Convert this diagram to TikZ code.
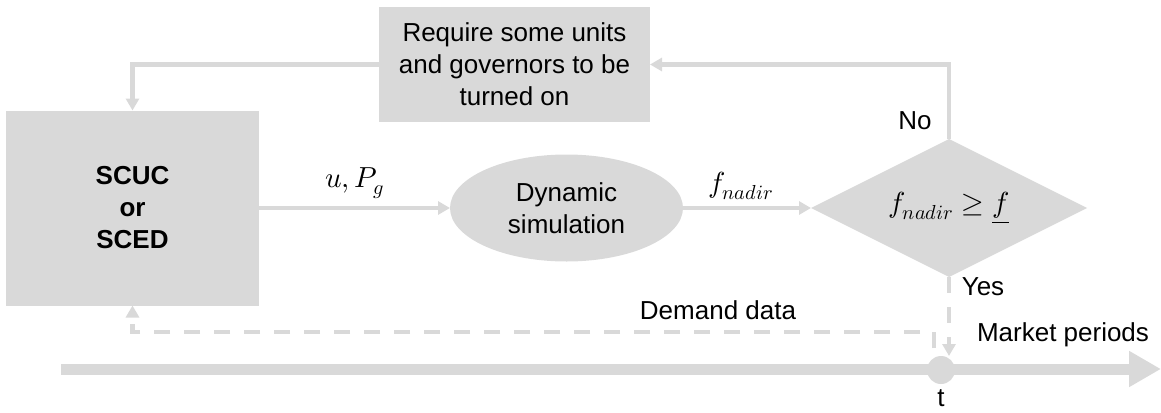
\documentclass[tikz,border=0pt]{standalone}
\usepackage{fontspec}
\usepackage{unicode-math}
\setmainfont{Liberation Sans}
\setmathfont{Latin Modern Math}
\usetikzlibrary{shapes.geometric,arrows.meta,calc}
\definecolor{boxgray}{HTML}{D9D9D9}
\begin{document}
\begin{tikzpicture}[x=1pt,y=-1pt,
  every node/.style={font=\fontsize{26}{32}\selectfont, inner sep=0pt, outer sep=0pt, align=center},
  procbox/.style={fill=boxgray, draw=none, rectangle},
  simnode/.style={fill=boxgray, draw=none, ellipse},
  decnode/.style={fill=boxgray, draw=none, diamond, aspect=2, font=\fontsize{29}{32}\selectfont},
  flow/.style={draw=boxgray, line width=4.5pt, -{Triangle[length=12pt,width=13pt]}},
  dataflow/.style={flow, dash pattern=on 16pt off 14pt},
  lbl/.style={text=black},
  mathlbl/.style={text=black, font=\fontsize{29}{32}\selectfont}
]
\useasboundingbox (0,0) rectangle (1161,412);

% time axis with the current market period
\coordinate (tl0) at (61,369);
\coordinate (tl1) at (1161,369);
\draw[draw=boxgray, line width=11pt, -{Triangle[length=32pt,width=34pt]}] (tl0) -- (tl1);
\node[circle, fill=boxgray, minimum size=28pt] (tdot) at (941,370) {};
\node[lbl] (tlabel) at (941,398) {t};
\node[lbl] (mp) at (1063,335) {Market periods};

% blocks
\node[procbox, minimum width=253pt, minimum height=195pt] (scuc) at (132.5,208)
  {\textbf{SCUC}\\ \textbf{or}\\ \textbf{SCED}};
\node[procbox, minimum width=271pt, minimum height=115pt] (req) at (514.5,64.5)
  {Require some units\\ and governors to be\\ turned on};
\node[simnode, minimum width=233pt, minimum height=107pt] (sim) at (566.5,208)
  {Dynamic\\ simulation};
\node[decnode, minimum width=276pt, minimum height=138pt] (dec) at (949,208)
  {$f_{nadir} \geq \underline{f}$};

% main flow
\draw[flow] (scuc) -- (sim) node[mathlbl, midway, above=9pt] {$u, P_g$};
\draw[flow] (sim) -- (dec) node[mathlbl, pos=0.45, above=8pt] {$f_{nadir}$};
\draw[flow] (dec.north) |- (req.east);
\draw[flow] (req.west) -| (scuc.north);
\node[lbl] (no) at (915,121) {No};

% accepted schedule goes to the market period
\draw[dataflow] (dec.south) -- (dec.south |- tdot.north);
\node[lbl] (yes) at (983,287) {Yes};

% demand data fed back to the scheduler
\coordinate (dd) at (934,348);
\draw[dataflow] (dd) -- ++(0,-16) -| (scuc.south);
\node[lbl] (dem) at (718,310) {Demand data};
\end{tikzpicture}
\end{document}
